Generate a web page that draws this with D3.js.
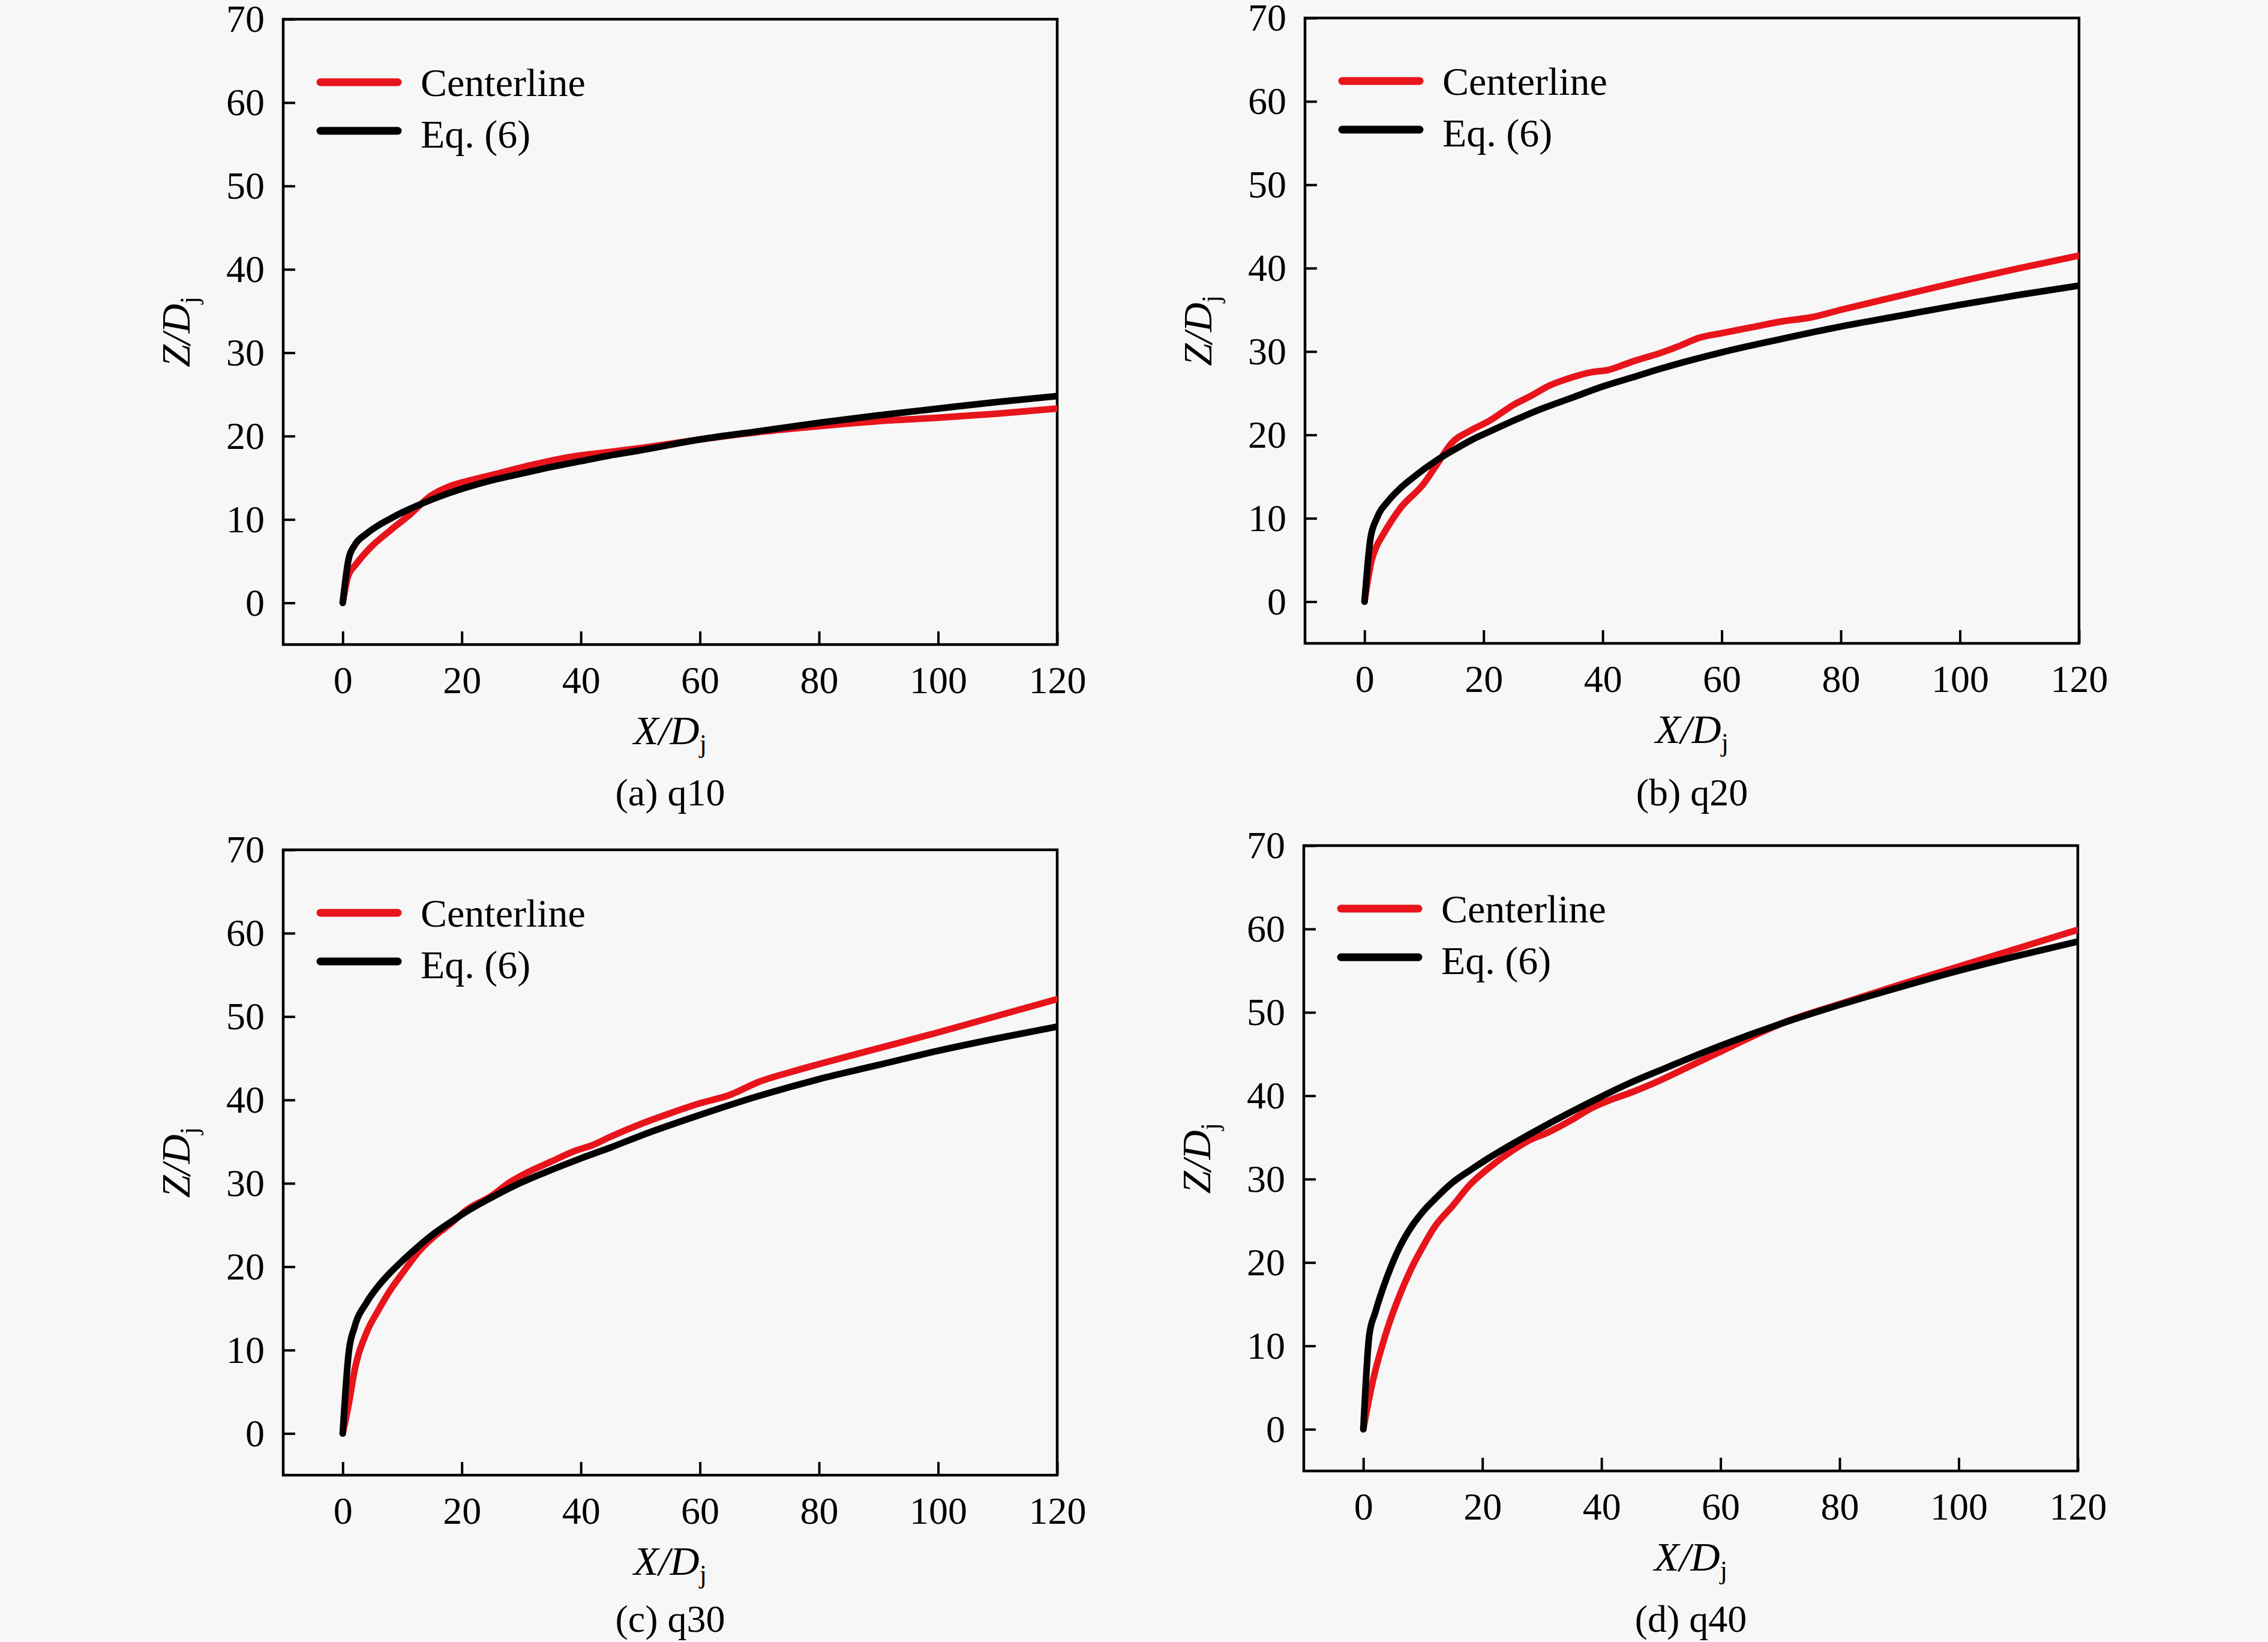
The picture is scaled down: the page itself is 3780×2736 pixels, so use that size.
<!DOCTYPE html>
<html>
<head>
<meta charset="utf-8">
<script src="https://cdn.jsdelivr.net/npm/d3@7"></script>
<style>
body { margin: 0; background: #f7f7f7; }
text { font-family: "Liberation Serif", "Times New Roman", serif; fill: #000; }
</style>
</head>
<body>
<div id="chart"></div>
<script>
var W = 3780, H = 2736;
var pw = 1290, ph = 1042;

// Eq. (6) curves (shared X/Dj)
var eqX = [0, 1, 2, 4, 6, 8, 10, 12, 15, 18, 21, 25, 30, 35, 40, 45, 50, 60, 70, 80, 90, 100, 110, 120];
var eqA = [0, 5.3, 6.9, 8.3, 9.3, 10.1, 10.85, 11.5, 12.4, 13.2, 13.9, 14.7, 15.5, 16.3, 17.0, 17.7, 18.3, 19.6, 20.6, 21.6, 22.5, 23.3, 24.1, 24.8];
var eqB = [0, 7.6, 9.9, 12.1, 13.6, 14.8, 15.9, 16.9, 18.2, 19.4, 20.4, 21.7, 23.2, 24.5, 25.8, 26.9, 28.0, 29.9, 31.5, 33.0, 34.3, 35.6, 36.8, 37.9];
var eqC = [0, 9.7, 12.8, 15.7, 17.7, 19.3, 20.7, 22.0, 23.8, 25.3, 26.7, 28.3, 30.1, 31.6, 33.0, 34.3, 35.7, 38.2, 40.5, 42.5, 44.2, 45.9, 47.4, 48.8];
var eqD = [0, 11.3, 14.0, 18.3, 21.7, 24.2, 26.1, 27.6, 29.6, 31.1, 32.5, 34.2, 36.2, 38.1, 39.9, 41.6, 43.1, 46.0, 48.6, 50.9, 53.0, 55.0, 56.8, 58.5];

// centerline traces
var clXa = [0, 0.9, 2.2, 4.6, 8, 11.3, 14.7, 18, 21.4, 24.8, 31.5, 38.2, 44.9, 50.3, 60, 70, 80, 90, 100, 110, 120];
var clZa = [0, 3.2, 4.6, 6.6, 8.7, 10.6, 12.8, 14.0, 14.7, 15.3, 16.5, 17.5, 18.1, 18.6, 19.6, 20.5, 21.2, 21.8, 22.2, 22.7, 23.3];

var clXb = [0, 1.2, 2, 3, 6, 10, 12, 14.6, 18, 21, 25, 28, 31, 34, 38, 41, 45, 50, 53, 56, 60, 65, 70, 75, 80, 90, 100, 110, 120];
var clZb = [0, 5.0, 6.6, 7.9, 11.2, 14.2, 16.3, 19.0, 20.6, 21.7, 23.6, 24.7, 25.9, 26.7, 27.5, 27.8, 28.8, 29.9, 30.7, 31.6, 32.2, 32.9, 33.6, 34.1, 35.0, 36.7, 38.4, 40.0, 41.5];

var clXc = [0, 1, 2, 4, 6, 8, 10, 13, 15, 18, 21, 25, 28, 31, 35, 39, 42, 45, 50, 55, 60, 65, 70, 75, 80, 90, 100, 110, 120];
var clZc = [0, 3.5, 7.6, 12.1, 14.8, 17.2, 19.2, 22.0, 23.4, 25.1, 26.9, 28.5, 30.1, 31.3, 32.6, 33.9, 34.6, 35.6, 37.1, 38.4, 39.6, 40.6, 42.2, 43.3, 44.3, 46.2, 48.1, 50.1, 52.1];

var clXd = [0, 1, 2, 3, 4.2, 6, 8, 10, 12, 15, 18, 21, 25, 28, 31, 35, 38, 41.5, 45, 50, 55, 60, 65, 70, 80, 90, 100, 110, 120];
var clZd = [0, 3.8, 7.0, 9.6, 12.4, 15.9, 19.2, 21.9, 24.3, 26.8, 29.4, 31.3, 33.4, 34.7, 35.6, 37.1, 38.4, 39.5, 40.4, 41.9, 43.6, 45.3, 47.0, 48.6, 51.0, 53.3, 55.5, 57.7, 59.9];

var xTicks = [0, 20, 40, 60, 80, 100, 120];
var yTicks = [0, 10, 20, 30, 40, 50, 60, 70];
var captions = ["(a) q10", "(b) q20", "(c) q30", "(d) q40"];
var legendLabels = ["Centerline", "Eq. (6)"];
var colors = ["#e8141b", "#000000"];

var panels = [
    {left: 472, top: 32, capY: 1342, cx: clXa, cz: clZa, ez: eqA},
    {left: 2175, top: 30, capY: 1342, cx: clXb, cz: clZb, ez: eqB},
    {left: 472, top: 1416, capY: 2719, cx: clXc, cz: clZc, ez: eqC},
    {left: 2173, top: 1409, capY: 2719, cx: clXd, cz: clZd, ez: eqD}
];

var svg = d3.select("#chart").append("svg")
    .attr("width", W).attr("height", H)
    .attr("viewBox", "0 0 " + W + " " + H);

svg.append("rect").attr("width", W).attr("height", H).attr("fill", "#f7f7f7");

var x = d3.scaleLinear().domain([-10, 120]).range([0, pw]);
var y = d3.scaleLinear().domain([-5, 70]).range([ph, 0]);

var line = d3.line()
    .x(function (d) { return x(d[0]); })
    .y(function (d) { return y(d[1]); })
    .curve(d3.curveMonotoneX);

function mkPanel(p, i) {
    var g = svg.append("g").attr("transform", "translate(" + p.left + "," + p.top + ")");

    g.append("clipPath").attr("id", "clip" + i)
        .append("rect").attr("width", pw).attr("height", ph);

    // axes, ticks point inward
    var xa = g.append("g").attr("transform", "translate(0," + ph + ")")
        .call(d3.axisBottom(x).tickValues(xTicks).tickSizeInner(-22).tickSizeOuter(0).tickPadding(36));
    var ya = g.append("g")
        .call(d3.axisLeft(y).tickValues(yTicks).tickSizeInner(-20).tickSizeOuter(0).tickPadding(31));
    [xa, ya].forEach(function (a) {
        a.select(".domain").remove();
        a.attr("font-size", 64);
        a.selectAll(".tick line").attr("stroke", "#000").attr("stroke-width", 4);
    });

    g.append("rect").attr("width", pw).attr("height", ph)
        .attr("fill", "none").attr("stroke", "#000").attr("stroke-width", 4.5);

    var curves = g.append("g").attr("clip-path", "url(#clip" + i + ")");
    var red = p.cx.map(function (v, k) { return [v, p.cz[k]]; });
    var blk = eqX.map(function (v, k) { return [v, p.ez[k]]; });
    [red, blk].forEach(function (pts, k) {
        curves.append("path").datum(pts)
            .attr("d", line)
            .attr("fill", "none")
            .attr("stroke", colors[k])
            .attr("stroke-width", 11)
            .attr("stroke-linecap", "round")
            .attr("stroke-linejoin", "round");
    });

    // legend
    var ly = [105, 186], ty = [128, 214];
    legendLabels.forEach(function (lab, k) {
        g.append("line").attr("x1", 62).attr("x2", 191).attr("y1", ly[k]).attr("y2", ly[k])
            .attr("stroke", colors[k]).attr("stroke-width", 13).attr("stroke-linecap", "round");
        g.append("text").attr("x", 229).attr("y", ty[k]).attr("font-size", 66).text(lab);
    });

    // axis titles
    var xt = g.append("text").attr("x", pw / 2).attr("y", ph + 166)
        .attr("text-anchor", "middle").attr("font-size", 68);
    xt.append("tspan").attr("font-style", "italic").text("X/D");
    xt.append("tspan").attr("font-size", 44).attr("dy", 14).text("j");

    var yt = g.append("text")
        .attr("transform", "translate(-156," + (ph / 2) + ") rotate(-90)")
        .attr("text-anchor", "middle").attr("font-size", 68);
    yt.append("tspan").attr("font-style", "italic").text("Z/D");
    yt.append("tspan").attr("font-size", 44).attr("dy", 14).text("j");

    svg.append("text").attr("x", p.left + pw / 2).attr("y", p.capY)
        .attr("text-anchor", "middle").attr("font-size", 64).text(captions[i]);
}

panels.forEach(mkPanel);
</script>
</body>
</html>
